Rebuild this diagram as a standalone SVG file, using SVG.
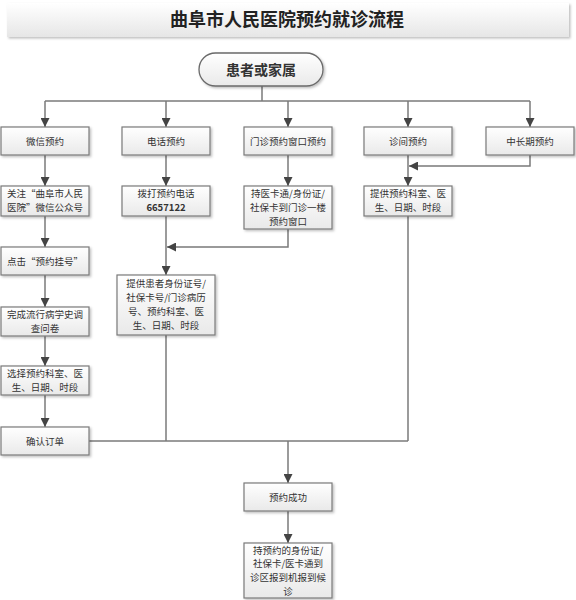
<svg xmlns="http://www.w3.org/2000/svg" width="576" height="600" viewBox="0 0 576 600">
<defs>
<linearGradient id="gBox" x1="0" y1="0" x2="0" y2="1">
<stop offset="0" stop-color="#ffffff"/>
<stop offset="1" stop-color="#e9e9e9"/>
</linearGradient>
<linearGradient id="gTitle" x1="0" y1="0" x2="0" y2="1">
<stop offset="0" stop-color="#ffffff"/>
<stop offset="1" stop-color="#e6e6e6"/>
</linearGradient>
<filter id="sh" x="-10%" y="-10%" width="130%" height="140%">
<feDropShadow dx="1.5" dy="1.5" stdDeviation="1" flood-color="#000" flood-opacity="0.25"/>
</filter>
<marker id="ah" viewBox="0 0 10 10" refX="10" refY="5" markerWidth="9" markerHeight="9" markerUnits="userSpaceOnUse" orient="auto">
<path d="M0,0 L10,5 L0,10 z" fill="#444"/>
</marker>
</defs>
<style>
.box{fill:url(#gBox);stroke:#7a7a7a;stroke-width:1.2;filter:url(#sh)}
.t{font-family:"Noto Sans CJK SC","Noto Sans",sans-serif;font-size:9.5px;fill:#333;text-anchor:middle}
.ln{fill:none;stroke:#7a7a7a;stroke-width:1.5}
.ar{marker-end:url(#ah)}
</style>
<rect width="576" height="600" fill="#ffffff"/>
<g id="title">
<rect x="7" y="3" width="562" height="34" fill="url(#gTitle)" filter="url(#sh)"/>
<text x="287" y="26" style="font-family:'Noto Sans CJK SC','Noto Sans',sans-serif;font-size:18px;font-weight:bold;fill:#222;text-anchor:middle">曲阜市人民医院预约就诊流程</text>
</g>
<g id="connectors">
<path class="ln" d="M262 86 V101"/>
<path class="ln" d="M45 101 H530"/>
<path class="ln ar" d="M45 101 V127"/>
<path class="ln ar" d="M166 101 V127"/>
<path class="ln ar" d="M288 101 V127"/>
<path class="ln ar" d="M408 101 V127"/>
<path class="ln ar" d="M530 101 V127"/>
<path class="ln ar" d="M45 155 V186"/>
<path class="ln ar" d="M166 155 V186"/>
<path class="ln ar" d="M288 155 V186"/>
<path class="ln ar" d="M408 155 V186"/>
<path class="ln ar" d="M530 155 V166 H409"/>
<path class="ln ar" d="M45 216 V247"/>
<path class="ln ar" d="M45 275 V307"/>
<path class="ln ar" d="M45 336 V366"/>
<path class="ln ar" d="M45 395 V427"/>
<path class="ln ar" d="M166 216 V275"/>
<path class="ln ar" d="M288 229 V247 H167"/>
<path class="ln" d="M89 441 H408"/>
<path class="ln" d="M166 335 V441"/>
<path class="ln" d="M408 216 V441"/>
<path class="ln ar" d="M288 441 V483"/>
<path class="ln ar" d="M288 511 V543"/>
</g>
<g id="start">
<rect x="199" y="53" width="124" height="33" rx="16.5" fill="url(#gBox)" stroke="#6a6a6a" stroke-width="1.3" filter="url(#sh)"/>
<text x="261" y="75" style="font-family:'Noto Sans CJK SC','Noto Sans',sans-serif;font-size:14px;font-weight:bold;fill:#333;text-anchor:middle">患者或家属</text>
</g>
<g id="wechat"><rect class="box" x="1" y="127" width="88" height="28"/><text class="t" x="45" y="144.5">微信预约</text></g>
<g id="phone"><rect class="box" x="122" y="127" width="88" height="28"/><text class="t" x="166" y="144.5">电话预约</text></g>
<g id="window"><rect class="box" x="244" y="127" width="88" height="28"/><text class="t" x="288" y="144.5">门诊预约窗口预约</text></g>
<g id="clinic"><rect class="box" x="364" y="127" width="88" height="28"/><text class="t" x="408" y="144.5">诊间预约</text></g>
<g id="longterm"><rect class="box" x="486" y="127" width="88" height="28"/><text class="t" x="530" y="144.5">中长期预约</text></g>
<g id="follow"><rect class="box" x="1" y="186" width="88" height="30"/><text class="t" x="45" y="197.3">关注“曲阜市人民</text><text class="t" x="45" y="211.3">医院”微信公众号</text></g>
<g id="dial"><rect class="box" x="122" y="186" width="88" height="30"/><text class="t" x="166" y="197.3">拨打预约电话</text><text class="t" x="166" y="211.3" style="font-weight:bold">6657122</text></g>
<g id="bring"><rect class="box" x="244" y="186" width="88" height="43"/><text class="t" x="288" y="196.8">持医卡通/身份证/</text><text class="t" x="288" y="210.8">社保卡到门诊一楼</text><text class="t" x="288" y="224.8">预约窗口</text></g>
<g id="provide2"><rect class="box" x="364" y="186" width="88" height="30"/><text class="t" x="408" y="197.3">提供预约科室、医</text><text class="t" x="408" y="211.3">生、日期、时段</text></g>
<g id="click"><rect class="box" x="1" y="247" width="88" height="28"/><text class="t" x="45" y="264.5">点击“预约挂号”</text></g>
<g id="survey"><rect class="box" x="1" y="307" width="88" height="29"/><text class="t" x="45" y="317.8">完成流行病学史调</text><text class="t" x="45" y="331.8">查问卷</text></g>
<g id="select"><rect class="box" x="1" y="366" width="88" height="29"/><text class="t" x="45" y="376.8">选择预约科室、医</text><text class="t" x="45" y="390.8">生、日期、时段</text></g>
<g id="confirm"><rect class="box" x="1" y="427" width="88" height="28"/><text class="t" x="45" y="444.5">确认订单</text></g>
<g id="provide1"><rect class="box" x="117" y="275" width="98" height="60"/><text class="t" x="166" y="287.3">提供患者身份证号/</text><text class="t" x="166" y="301.3">社保卡号/门诊病历</text><text class="t" x="166" y="315.3">号、预约科室、医</text><text class="t" x="166" y="329.3">生、日期、时段</text></g>
<g id="success"><rect class="box" x="244" y="483" width="88" height="28"/><text class="t" x="288" y="500.5">预约成功</text></g>
<g id="visit"><rect class="box" x="244" y="543" width="88" height="55"/><text class="t" x="288" y="553.6">持预约的身份证/</text><text class="t" x="288" y="567.4">社保卡/医卡通到</text><text class="t" x="288" y="581.2">诊区报到机报到候</text><text class="t" x="288" y="595">诊</text></g>
</svg>
